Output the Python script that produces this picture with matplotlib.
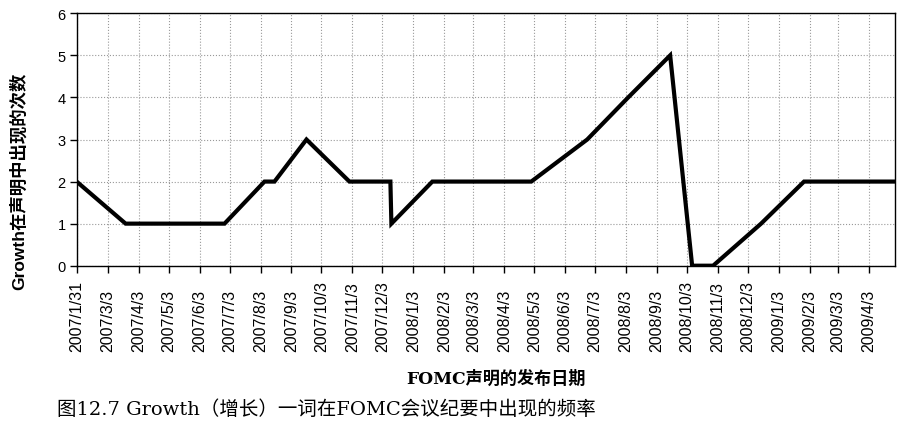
import numpy as np
import pandas as pd
import matplotlib
matplotlib.use('Agg')
import matplotlib.pyplot as plt
import matplotlib.dates as mdates

plt.rcParams['font.family'] = ['Liberation Sans', 'Noto Sans CJK SC']

# FOMC statement dates and count of "growth"
dates = ['2007-01-31', '2007-03-21', '2007-05-09', '2007-06-28', '2007-08-07',
         '2007-08-17', '2007-09-18', '2007-10-31', '2007-12-11', '2007-12-12',
         '2008-01-22', '2008-01-30', '2008-03-18', '2008-04-30', '2008-06-25',
         '2008-08-05', '2008-09-16', '2008-10-08', '2008-10-29', '2008-12-16',
         '2009-01-28', '2009-03-18', '2009-04-29']
counts = [2, 1, 1, 1, 2, 2, 3, 2, 2, 1, 2, 2, 2, 2, 3, 4, 5, 0, 0, 1, 2, 2, 2]

# Excel-style monthly ticks: 1/31 then the 3rd of each month
tick_dates = [pd.Timestamp('2007-01-31')] + list(
    pd.date_range('2007-03-03', '2009-04-03', freq=pd.DateOffset(months=1)))
tick_labels = ['%d/%d/%d' % (d.year, d.month, d.day) for d in tick_dates]

y_ticks = [0, 1, 2, 3, 4, 5, 6]

x = pd.to_datetime(dates)

fig = plt.figure(figsize=(9.04, 4.31), dpi=100)
ax = fig.add_axes([0.0848, 0.3812, 0.9052, 0.5856])

ax.plot(x, counts, color='black', lw=3, solid_joinstyle='miter')

ax.set_xlim(pd.Timestamp('2007-01-31'), pd.Timestamp('2009-04-29'))
ax.set_ylim(0, 6)
ax.set_yticks(y_ticks)
ax.set_yticklabels([str(v) for v in y_ticks], fontsize=10.5)
ax.set_xticks(tick_dates)
ax.set_xticklabels([])
ax.tick_params(axis='both', direction='out', length=5, width=1, pad=3)

# rotated labels aligned at their start (bottom), like the original
for d, lab in zip(tick_dates, tick_labels):
    ax.text(d, -0.338, lab, transform=ax.get_xaxis_transform(),
            rotation=90, ha='center', va='bottom', fontsize=11.5)

ax.grid(True, color='#999999', linestyle=':', lw=0.8)
for s in ax.spines.values():
    s.set_color('black')
    s.set_linewidth(1)

fig.text(18 / 904, 1 - 181 / 431, 'Growth在声明中出现的次数', rotation=90,
         ha='center', va='center', fontsize=12.5, fontweight='bold',
         family=['Liberation Sans', 'Noto Sans CJK SC'])

fig.text(0.549, 1 - 379 / 431, 'FOMC声明的发布日期', ha='center', va='center',
         fontsize=12.3, fontweight='bold',
         family=['DejaVu Serif', 'Noto Sans CJK SC'])

fig.text(57 / 904, 1 - 410 / 431, '图12.7 Growth（增长）一词在FOMC会议纪要中出现的频率',
         ha='left', va='center', fontsize=14,
         family=['DejaVu Serif', 'Noto Sans CJK SC'])

fig.savefig('out.png', dpi=100)
